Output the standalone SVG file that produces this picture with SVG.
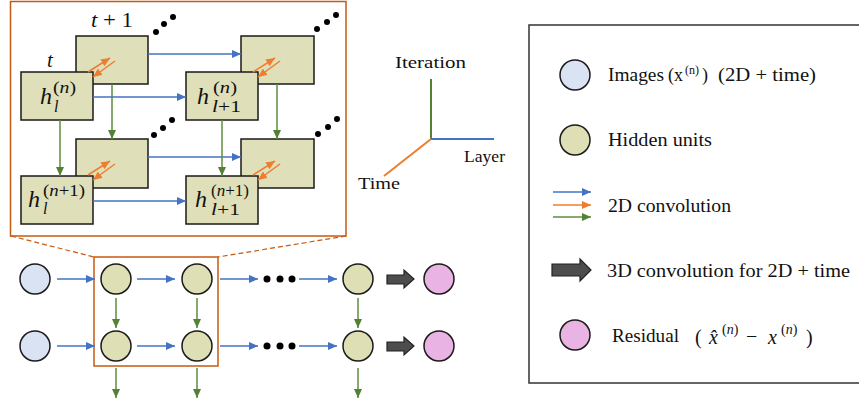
<svg xmlns="http://www.w3.org/2000/svg" width="859" height="402" viewBox="0 0 859 402" font-family="'Liberation Serif', 'Times New Roman', serif">
  <style>
    text { fill: #111; }
    .it { font-style: italic; }
    .box { fill: #dfdfb9; stroke: #1a1a1a; stroke-width: 1.5; }
    .hid { fill: #dfdfb6; stroke: #1a1a1a; stroke-width: 1.5; }
    .img { fill: #dae3f3; stroke: #1a1a1a; stroke-width: 1.5; }
    .res { fill: #e9b3e3; stroke: #1a1a1a; stroke-width: 1.5; }
    .blue { stroke: #4472c4; stroke-width: 1.5; fill: none; marker-end: url(#ahBlue); }
    .orange { stroke: #ed7d31; stroke-width: 1.5; fill: none; marker-end: url(#ahOrange); }
    .green { stroke: #5e8c3c; stroke-width: 1.5; fill: none; marker-end: url(#ahGreen); }
    .thick { fill: #4d4d4d; stroke: #222; stroke-width: 1.2; }
    .dot { fill: #000; }
  </style>
  <defs>
    <marker id="ahBlue" markerUnits="userSpaceOnUse" markerWidth="9" markerHeight="8" refX="9" refY="4" orient="auto">
      <path d="M0,0 L9,4 L0,8 z" fill="#4472c4"/>
    </marker>
    <marker id="ahOrange" markerUnits="userSpaceOnUse" markerWidth="9" markerHeight="8" refX="9" refY="4" orient="auto">
      <path d="M0,0 L9,4 L0,8 z" fill="#ed7d31"/>
    </marker>
    <marker id="ahGreen" markerUnits="userSpaceOnUse" markerWidth="9" markerHeight="8" refX="9" refY="4" orient="auto">
      <path d="M0,0 L9,4 L0,8 z" fill="#548235"/>
    </marker>
  </defs>

  <!-- zoomed detail frame and its dashed guide lines -->
  <g id="detail-frame">
    <rect x="10.5" y="1.5" width="335.5" height="234.5" fill="none" stroke="#c55a11" stroke-width="1.5"/>
    <line x1="11" y1="236" x2="94" y2="257" stroke="#c55a11" stroke-width="1.2" stroke-dasharray="5,3"/>
    <line x1="346" y1="236" x2="218" y2="257" stroke="#c55a11" stroke-width="1.2" stroke-dasharray="5,3"/>
  </g>

  <!-- back (t+1) feature maps -->
  <g id="back-top-left"><rect class="box" x="76" y="36" width="72" height="48"/></g>
  <g id="back-top-right"><rect class="box" x="241" y="36" width="73" height="48"/></g>
  <g id="back-bottom-left"><rect class="box" x="76" y="139" width="72" height="49"/></g>
  <g id="back-bottom-right"><rect class="box" x="241" y="139" width="73" height="49"/></g>

  <!-- connectors of the detail view -->
  <g id="detail-connectors">
    <line class="blue" x1="148" y1="54" x2="241" y2="54"/>
    <line class="blue" x1="148" y1="157" x2="241" y2="157"/>
    <line class="green" x1="112" y1="84" x2="112" y2="139"/>
    <line class="green" x1="277" y1="84" x2="277" y2="139"/>
  </g>

  <!-- front (t) feature maps -->
  <g id="h-l-n">
    <rect class="box" x="21" y="72" width="72" height="48"/>
    <text class="it" x="40" y="104" font-size="24">h</text>
    <text x="53" y="93" font-size="16" textLength="23" lengthAdjust="spacingAndGlyphs"><tspan>(</tspan><tspan class="it">n</tspan><tspan>)</tspan></text>
    <text class="it" x="54" y="112" font-size="16">l</text>
  </g>
  <g id="h-l1-n">
    <rect class="box" x="186" y="72" width="72" height="48"/>
    <text class="it" x="197" y="104" font-size="24">h</text>
    <text x="213" y="93" font-size="16" textLength="24" lengthAdjust="spacingAndGlyphs"><tspan>(</tspan><tspan class="it">n</tspan><tspan>)</tspan></text>
    <text x="212" y="112" font-size="16" textLength="29" lengthAdjust="spacingAndGlyphs"><tspan class="it">l</tspan>+1</text>
  </g>
  <g id="h-l-n1">
    <rect class="box" x="21" y="176" width="72" height="48"/>
    <text class="it" x="28" y="207" font-size="24">h</text>
    <text x="43" y="196" font-size="16" textLength="42" lengthAdjust="spacingAndGlyphs"><tspan>(</tspan><tspan class="it">n</tspan><tspan>+1)</tspan></text>
    <text class="it" x="43" y="214" font-size="16">l</text>
  </g>
  <g id="h-l1-n1">
    <rect class="box" x="186" y="176" width="72" height="48"/>
    <text class="it" x="195" y="207" font-size="24">h</text>
    <text x="211" y="196" font-size="16" textLength="38" lengthAdjust="spacingAndGlyphs"><tspan>(</tspan><tspan class="it">n</tspan><tspan>+1)</tspan></text>
    <text x="211" y="215" font-size="16" textLength="29" lengthAdjust="spacingAndGlyphs"><tspan class="it">l</tspan>+1</text>
  </g>

  <!-- connectors between front maps and time links -->
  <g id="front-connectors">
    <line class="blue" x1="93" y1="97" x2="186" y2="97"/>
    <line class="blue" x1="93" y1="201" x2="186" y2="201"/>
    <line class="green" x1="60" y1="120" x2="60" y2="176"/>
    <line class="green" x1="222" y1="120" x2="222" y2="176"/>
    <line class="orange" x1="88" y1="72" x2="110" y2="58"/>
    <line class="orange" x1="115" y1="61" x2="93" y2="77"/>
    <line class="orange" x1="253" y1="72" x2="275" y2="58"/>
    <line class="orange" x1="280" y1="61" x2="258" y2="77"/>
    <line class="orange" x1="88" y1="175" x2="110" y2="161"/>
    <line class="orange" x1="115" y1="164" x2="93" y2="180"/>
    <line class="orange" x1="253" y1="175" x2="275" y2="161"/>
    <line class="orange" x1="280" y1="164" x2="258" y2="180"/>
  </g>

  <!-- time labels and continuation dots -->
  <g id="time-labels">
    <text x="91" y="27" font-size="21" textLength="42" lengthAdjust="spacingAndGlyphs"><tspan class="it">t</tspan> + 1</text>
    <text class="it" x="47" y="67" font-size="21">t</text>
    <circle class="dot" cx="156" cy="32" r="3"/><circle class="dot" cx="164" cy="24" r="3"/><circle class="dot" cx="173" cy="17" r="3"/>
    <circle class="dot" cx="317" cy="29" r="3"/><circle class="dot" cx="327" cy="22" r="3"/><circle class="dot" cx="336" cy="15" r="3"/>
    <circle class="dot" cx="154" cy="135" r="3"/><circle class="dot" cx="163" cy="128" r="3"/><circle class="dot" cx="172" cy="120" r="3"/>
    <circle class="dot" cx="318" cy="134" r="3"/><circle class="dot" cx="328" cy="127" r="3"/><circle class="dot" cx="337" cy="119" r="3"/>
  </g>

  <!-- axes -->
  <g id="axes">
    <line x1="431" y1="139" x2="431" y2="79" stroke="#548235" stroke-width="2"/>
    <line x1="431" y1="139" x2="494" y2="139" stroke="#4472c4" stroke-width="2"/>
    <line x1="431" y1="139" x2="384" y2="176" stroke="#ed7d31" stroke-width="2"/>
    <text x="395" y="68" font-size="17" textLength="71" lengthAdjust="spacingAndGlyphs">Iteration</text>
    <text x="464" y="162" font-size="17" textLength="41" lengthAdjust="spacingAndGlyphs">Layer</text>
    <text x="358" y="189" font-size="17" textLength="42" lengthAdjust="spacingAndGlyphs">Time</text>
  </g>

  <!-- network overview -->
  <g id="overview-frame">
    <rect x="94" y="257" width="124" height="109" fill="none" stroke="#c55a11" stroke-width="1.5"/>
  </g>
  <g id="img-1"><circle class="img" cx="35" cy="279" r="15"/></g>
  <g id="img-2"><circle class="img" cx="35" cy="346" r="15"/></g>
  <g id="hid-1-1"><circle class="hid" cx="116" cy="279" r="15"/></g>
  <g id="hid-1-2"><circle class="hid" cx="197" cy="279" r="15"/></g>
  <g id="hid-1-n"><circle class="hid" cx="358" cy="279" r="15"/></g>
  <g id="hid-2-1"><circle class="hid" cx="116" cy="346" r="15"/></g>
  <g id="hid-2-2"><circle class="hid" cx="197" cy="346" r="15"/></g>
  <g id="hid-2-n"><circle class="hid" cx="358" cy="346" r="15"/></g>
  <g id="res-1"><circle class="res" cx="439" cy="279" r="15"/></g>
  <g id="res-2"><circle class="res" cx="439" cy="346" r="15"/></g>
  <g id="ellipsis-1">
    <circle class="dot" cx="267" cy="279" r="3.5"/><circle class="dot" cx="280" cy="279" r="3.5"/><circle class="dot" cx="292" cy="279" r="3.5"/>
  </g>
  <g id="ellipsis-2">
    <circle class="dot" cx="267" cy="346" r="3.5"/><circle class="dot" cx="280" cy="346" r="3.5"/><circle class="dot" cx="292" cy="346" r="3.5"/>
  </g>

  <g id="overview-connectors">
    <line class="blue" x1="57" y1="279" x2="95" y2="279"/>
    <line class="blue" x1="137" y1="279" x2="175" y2="279"/>
    <line class="blue" x1="220" y1="279" x2="258" y2="279"/>
    <line class="blue" x1="299" y1="279" x2="337" y2="279"/>
    <line class="blue" x1="57" y1="346" x2="95" y2="346"/>
    <line class="blue" x1="137" y1="346" x2="175" y2="346"/>
    <line class="blue" x1="220" y1="346" x2="258" y2="346"/>
    <line class="blue" x1="299" y1="346" x2="337" y2="346"/>
    <line class="green" x1="116" y1="298" x2="116" y2="328"/>
    <line class="green" x1="197" y1="298" x2="197" y2="328"/>
    <line class="green" x1="358" y1="298" x2="358" y2="328"/>
    <line class="green" x1="116" y1="368" x2="116" y2="398"/>
    <line class="green" x1="197" y1="368" x2="197" y2="398"/>
    <line class="green" x1="358" y1="368" x2="358" y2="398"/>
    <polygon class="thick" points="387,275 404,275 404,270 414,279 404,288 404,284 387,284"/>
    <polygon class="thick" points="387,342 404,342 404,337 414,346 404,355 404,351 387,351"/>
  </g>

  <!-- legend -->
  <g id="legend">
    <rect x="529" y="25" width="332" height="358" fill="none" stroke="#333" stroke-width="1.5"/>
    <circle class="img" cx="575" cy="75" r="15"/>
    <text x="608" y="81" font-size="18" textLength="56" lengthAdjust="spacingAndGlyphs">Images</text>
    <text x="668" y="81" font-size="18">(x</text>
    <text x="685" y="74" font-size="12">(n)</text>
    <text x="702" y="81" font-size="18">)</text>
    <text x="718" y="81" font-size="18" textLength="98" lengthAdjust="spacingAndGlyphs">(2D + time)</text>

    <circle class="hid" cx="575" cy="140" r="15"/>
    <text x="608" y="146" font-size="18" textLength="104" lengthAdjust="spacingAndGlyphs">Hidden units</text>

    <line class="blue" x1="553" y1="192" x2="591" y2="192"/>
    <line class="orange" x1="553" y1="205" x2="591" y2="205"/>
    <line class="green" x1="553" y1="217" x2="591" y2="217"/>
    <text x="608" y="212" font-size="18" textLength="123" lengthAdjust="spacingAndGlyphs">2D convolution</text>

    <polygon class="thick" points="552,264 580,264 580,259 591,270 580,281 580,276 552,276"/>
    <text x="607" y="277" font-size="18" textLength="243" lengthAdjust="spacingAndGlyphs">3D convolution for 2D + time</text>

    <circle class="res" cx="575" cy="335" r="15"/>
    <text x="612" y="342" font-size="18" textLength="67" lengthAdjust="spacingAndGlyphs">Residual</text>
    <text x="695" y="344" font-size="20">(</text>
    <text class="it" x="709" y="344" font-size="20">x̂</text>
    <text x="722" y="334" font-size="14"><tspan>(</tspan><tspan class="it">n</tspan><tspan>)</tspan></text>
    <text x="746" y="343" font-size="20">−</text>
    <text class="it" x="768" y="344" font-size="20">x</text>
    <text x="781" y="334" font-size="14"><tspan>(</tspan><tspan class="it">n</tspan><tspan>)</tspan></text>
    <text x="806" y="344" font-size="20">)</text>
  </g>
</svg>
